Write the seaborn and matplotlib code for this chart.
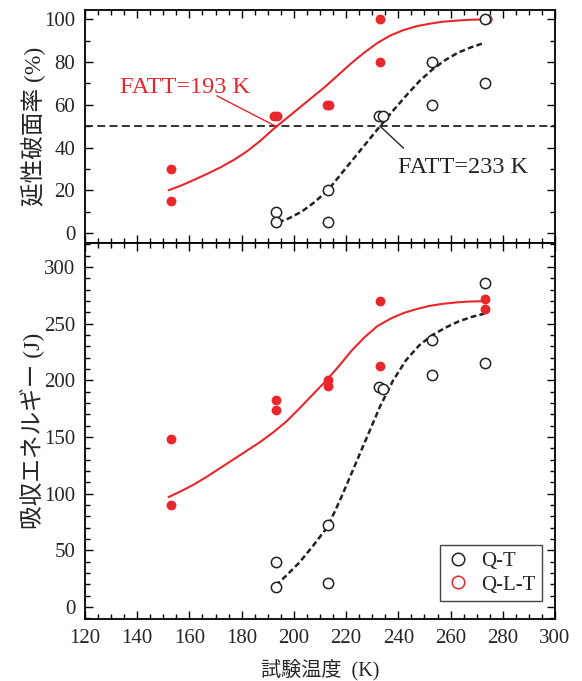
import matplotlib
matplotlib.use("Agg")
import matplotlib.pyplot as plt
import seaborn as sns
import pandas as pd
from matplotlib.ticker import MultipleLocator
from matplotlib.lines import Line2D

# ---------------- data ----------------
# Top panel: ductile fracture ratio (%)
qt_top_T = [193, 193, 213, 213, 232.5, 234, 253, 253, 273, 273]
qt_top_v = [10, 5, 20, 5, 55, 55, 80, 60, 100, 70]
qlt_top_T = [153, 153, 192.5, 193.5, 212.5, 213.5, 233, 233, 274, 274]
qlt_top_v = [30, 15, 55, 55, 60, 60, 100, 80, 100, 100]

# fitted curves
qlt_top_fit_T = [152, 157, 162, 167, 172, 177, 182, 187, 192, 197, 202, 207,
                 212, 217, 222, 227, 232, 237, 242, 247, 252, 257, 262, 267, 273]
qlt_top_fit_v = [20, 22.3, 25, 27.8, 30.8, 34.2, 38.2, 43, 48.5, 53.5, 58.5,
                 63.5, 68.5, 74, 79.5, 84.5, 89, 92.5, 95, 96.8, 98, 98.9,
                 99.4, 99.8, 100]
qt_top_fit_T = [194, 198, 203, 208, 213, 218, 223, 228, 233, 238, 243, 248,
                253, 258, 263, 268, 273]
qt_top_fit_v = [5, 6.8, 10, 14.5, 20, 27.5, 35, 42.5, 50, 57.3, 64.3, 71,
                76.5, 81, 84.5, 87, 89]

# Bottom panel: absorbed energy (J)
qt_bot_T = [193, 193, 213, 213, 232.5, 234, 253, 253, 273, 273]
qt_bot_v = [40, 18, 72, 21, 194, 192, 236, 205, 286, 215]
qlt_bot_T = [153, 153, 193, 193, 213, 213, 233, 233, 273, 273]
qlt_bot_v = [148, 90, 183, 174, 200, 195, 270, 213, 272, 263]

qlt_bot_fit_T = [152, 157, 162, 167, 172, 177, 182, 187, 192, 197, 202, 207,
                 212, 217, 222, 227, 232, 237, 242, 247, 252, 257, 262, 267, 273]
qlt_bot_fit_v = [97, 102.5, 108.5, 115.5, 123, 130.5, 138, 145.5, 154, 163.5,
                 175, 187, 199, 212, 226, 238, 248, 254.5, 259.5, 263, 265.8,
                 267.6, 268.8, 269.6, 270]
qt_bot_fit_T = [193, 197, 202, 207, 213, 218, 223, 228, 233, 238, 243, 248,
                253, 258, 263, 268, 273]
qt_bot_fit_v = [19, 27.5, 39, 53, 71, 96, 123, 150, 177, 200, 218, 231, 240,
                246.5, 252, 256, 259]

fatt_qlt = 193
fatt_qt = 233
series_names = ["Q-T", "Q-L-T"]
ylabel_top = "延性破面率 (%)"
ylabel_bot = "吸収エネルギー (J)"
xlabel = "試験温度  (K)"

# ---------------- styling ----------------
sns.set_theme(style="ticks")
plt.rcParams["font.family"] = ["Liberation Serif", "Noto Sans CJK JP"]
plt.rcParams["axes.unicode_minus"] = False

RED = "#e8262b"
BLK = "#222222"

fig = plt.figure(figsize=(5.82, 6.81), dpi=100)
W, H = 582, 681
L, R = 85, 555
ax1 = fig.add_axes([L / W, (H - 243) / H, (R - L) / W, (243 - 10) / H])
ax2 = fig.add_axes([L / W, (H - 619) / H, (R - L) / W, (619 - 243) / H])

def style_axis(ax):
    for s in ax.spines.values():
        s.set_linewidth(1.3)
        s.set_color("black")
    ax.tick_params(which="both", direction="in", top=True, right=True,
                   color="black", width=1.0)
    ax.tick_params(which="major", length=6, labelsize=15, pad=7)
    ax.tick_params(which="minor", length=3.5)
    ax.xaxis.set_major_locator(MultipleLocator(20))
    ax.xaxis.set_minor_locator(MultipleLocator(5))
    ax.set_xlim(120, 300)

# ---------- top panel ----------
ax1.axhline(50, color=BLK, lw=1.3, ls=(0, (4.4, 2.4)), zorder=1)
sns.lineplot(x=qlt_top_fit_T, y=qlt_top_fit_v, ax=ax1, color=RED, lw=1.5,
             estimator=None, sort=False, zorder=2)
sns.lineplot(x=qt_top_fit_T, y=qt_top_fit_v, ax=ax1, color=BLK, lw=1.8,
             linestyle=(0, (2.3, 1.3)), estimator=None, sort=False, zorder=2)
sns.scatterplot(x=qlt_top_T, y=qlt_top_v, ax=ax1, color=RED, s=50,
                edgecolor=RED, linewidth=0, zorder=3)
sns.scatterplot(x=qt_top_T, y=qt_top_v, ax=ax1, facecolor="white", s=55,
                edgecolor=BLK, linewidth=1.1, zorder=4)

ax1.set_ylim(-4.7, 104.4)
ax1.yaxis.set_major_locator(MultipleLocator(20))
ax1.yaxis.set_minor_locator(MultipleLocator(10))
style_axis(ax1)
ax1.tick_params(axis="x", labelbottom=False)
ax1.set_xlabel("")
ax1.set_ylabel(ylabel_top, fontsize=17)
ax1.yaxis.set_label_coords(-0.085, 0.5)

ax1.annotate("", xy=(fatt_qlt, 50), xytext=(170.5, 64.2),
             arrowprops=dict(arrowstyle="-", color=RED, lw=1.0,
                             shrinkA=0, shrinkB=0))
ax1.text(133.4, 65.6, f"FATT={fatt_qlt} K", color=RED, fontsize=17.5,
         ha="left", va="baseline")
ax1.annotate("", xy=(fatt_qt, 50), xytext=(242, 39.7),
             arrowprops=dict(arrowstyle="-", color=BLK, lw=1.0,
                             shrinkA=0, shrinkB=0))
ax1.text(240, 28.2, f"FATT={fatt_qt} K", color=BLK, fontsize=17.5,
         ha="left", va="baseline")

# ---------- bottom panel ----------
sns.lineplot(x=qlt_bot_fit_T, y=qlt_bot_fit_v, ax=ax2, color=RED, lw=1.5,
             estimator=None, sort=False, zorder=2)
sns.lineplot(x=qt_bot_fit_T, y=qt_bot_fit_v, ax=ax2, color=BLK, lw=1.8,
             linestyle=(0, (2.3, 1.3)), estimator=None, sort=False, zorder=2)
sns.scatterplot(x=qlt_bot_T, y=qlt_bot_v, ax=ax2, color=RED, s=50,
                edgecolor=RED, linewidth=0, zorder=3)
sns.scatterplot(x=qt_bot_T, y=qt_bot_v, ax=ax2, facecolor="white", s=55,
                edgecolor=BLK, linewidth=1.1, zorder=4)

ax2.set_ylim(-10.6, 321.3)
ax2.yaxis.set_major_locator(MultipleLocator(50))
ax2.yaxis.set_minor_locator(MultipleLocator(10))
style_axis(ax2)
ax2.set_xlabel(xlabel, fontsize=14.5)
ax2.set_ylabel(ylabel_bot, fontsize=17)
ax2.yaxis.set_label_coords(-0.085, 0.5)
ax2.xaxis.set_label_coords(0.5, -0.105)

handles = [
    Line2D([], [], marker="o", ls="none", mfc="none", mec=BLK, ms=9, mew=1.1),
    Line2D([], [], marker="o", ls="none", mfc="none", mec=RED, ms=9, mew=1.1),
]
leg = ax2.legend(handles, series_names, loc="lower right",
                 bbox_to_anchor=(0.972, 0.048), fontsize=15, frameon=True,
                 fancybox=False, framealpha=1, edgecolor="#444444",
                 handletextpad=0.5, borderpad=0.3, labelspacing=0.2,
                 handlelength=1.2, borderaxespad=0)
leg.get_frame().set_linewidth(1.0)

fig.savefig("out.png", dpi=100)
